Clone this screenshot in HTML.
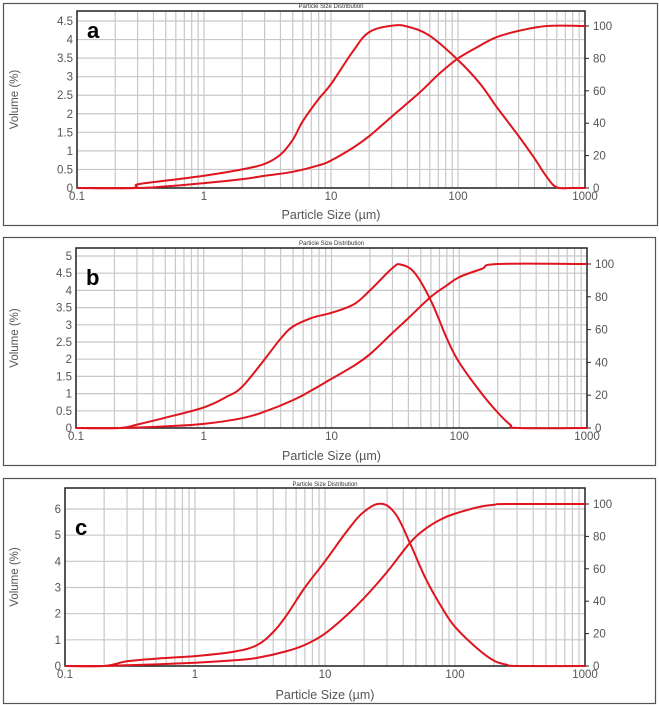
<!DOCTYPE html>
<html><head><meta charset="utf-8">
<style>
body{margin:0;background:#fff;width:659px;height:705px;overflow:hidden;font-family:"Liberation Sans",sans-serif;}
svg{display:block}
</style></head>
<body>
<svg id="chart" width="659" height="705"></svg>
<script>
// Panel a data (x in µm)
const aDensX=[0.1,0.27,0.3,0.5,1,2,3,4,5,6,8,10,15,20,30,40,60,100,150,200,300,400,500,600,800,1000];
const aDensY=[0,0,0.1,0.2,0.33,0.5,0.65,0.9,1.3,1.8,2.4,2.8,3.7,4.2,4.37,4.35,4.1,3.45,2.8,2.2,1.4,0.8,0.3,0.02,0,0];
const aCumX=[0.1,0.3,0.5,1,2,3,5,8,10,15,20,30,50,70,100,150,200,300,500,1000];
const aCumY=[0,0,1,3,5.5,7.5,10,14,17,25,32,44,59,70,80,88,93,97,100,100];
// Panel b
const bDensX=[0.1,0.22,0.3,0.5,1,1.5,2,3,4,5,7,10,15,20,30,35,45,60,80,100,150,200,250,290,1000];
const bDensY=[0,0,0.1,0.3,0.6,0.9,1.2,2,2.6,2.95,3.2,3.35,3.6,4,4.65,4.75,4.5,3.7,2.6,1.9,1,0.45,0.1,0,0];
const bCumX=[0.1,0.22,0.5,1,2,3,5,7,10,15,20,30,40,60,80,100,150,200,1000];
const bCumY=[0,0,1,2.5,6,10,17,23,30,38,45,58,67,80,87,92,97,100,100];
// Panel c
const cDensX=[0.1,0.2,0.3,0.5,1,2,3,4,5,7,10,15,20,27,35,45,60,80,100,150,200,250,300,1000];
const cDensY=[0,0,0.18,0.28,0.38,0.55,0.8,1.3,1.9,3,4,5.2,5.9,6.2,5.8,4.7,3.3,2.2,1.5,0.65,0.2,0.05,0,0];
const cCumX=[0.1,0.2,0.3,0.5,1,2,3,5,7,10,15,20,30,45,60,80,100,150,200,250,1000];
const cCumY=[0,0,0.5,1,2,3.5,5,9,13,20,32,42,58,76,85,91,94,98,99.5,100,100];

const yTicksA=[0,0.5,1,1.5,2,2.5,3,3.5,4,4.5];
const yTicksB=[0,0.5,1,1.5,2,2.5,3,3.5,4,4.5,5];
const yTicksC=[0,1,2,3,4,5,6];
const rTicks=[0,20,40,60,80,100];
const xTicks=[0.1,1,10,100,1000];

const NS="http://www.w3.org/2000/svg";
const svg=document.getElementById('chart');
function el(t,a,p){const e=document.createElementNS(NS,t);for(const k in a)e.setAttribute(k,a[k]);(p||svg).appendChild(e);return e;}
function smooth(pts){
 let d='M'+pts[0][0].toFixed(1)+','+pts[0][1].toFixed(1);
 for(let i=0;i<pts.length-1;i++){
  const p0=pts[Math.max(0,i-1)],p1=pts[i],p2=pts[i+1],p3=pts[Math.min(pts.length-1,i+2)];
  const t=0.18;
  const c1x=p1[0]+(p2[0]-p0[0])*t,c1y=p1[1]+(p2[1]-p0[1])*t;
  const c2x=p2[0]-(p3[0]-p1[0])*t,c2y=p2[1]-(p3[1]-p1[1])*t;
  d+='C'+c1x.toFixed(1)+','+c1y.toFixed(1)+' '+c2x.toFixed(1)+','+c2y.toFixed(1)+' '+p2[0].toFixed(1)+','+p2[1].toFixed(1);
 }
 return d;
}

const panels=[
 {id:'a',box:[3,3,654,222],L:77,R:585,T:11,B:188,yMax:4.5,yMaxPx:21,r100:26,yt:yTicksA,dx:aDensX,dy:aDensY,cx:aCumX,cy:aCumY,titleY:8,xlabY:219,letterY:38},
 {id:'b',box:[3,237,652,228],L:76,R:587,T:248,B:428,yMax:5,yMaxPx:256,r100:264,yt:yTicksB,dx:bDensX,dy:bDensY,cx:bCumX,cy:bCumY,titleY:245,xlabY:460,letterY:285},
 {id:'c',box:[3,478,652,225],L:65,R:585,T:488,B:666,yMax:6,yMaxPx:509,r100:504,yt:yTicksC,dx:cDensX,dy:cDensY,cx:cCumX,cy:cCumY,titleY:486,xlabY:699,letterY:535}
];

panels.forEach(p=>{
 const g=el('g',{});
 
 
 const fb=el('rect',{x:p.box[0]+.5,y:p.box[1]+.5,width:p.box[2],height:p.box[3],fill:'#fff',stroke:'#555','stroke-width':1.2},g);
 
 
 const xs=v=>p.L+(Math.log10(v)+1)/4*(p.R-p.L);
 const ys=v=>p.B-v/p.yMax*(p.B-p.yMaxPx);
 const rs=v=>p.B-v/100*(p.B-p.r100);
 for(let d=-1;d<3;d++)for(let m=1;m<10;m++){
  const x=xs(m*Math.pow(10,d));
  const l=el('line',{x1:x,x2:x,y1:p.T,y2:p.B,stroke:'#c8c8c8','stroke-width':1.2},g);
  
  
 }
 p.yt.forEach(v=>{
  const y=ys(v);
  const l=el('line',{x1:p.L,x2:p.R,y1:y,y2:y,stroke:'#c8c8c8','stroke-width':1.2},g);
  
  
  const t=el('text',{x:p.L-4,y:y+4,'text-anchor':'end','font-size':11.5,fill:'#555'},g);
  t.textContent=v;
  
  
 });
 rTicks.forEach(v=>{
  const y=rs(v);
  const l=el('line',{x1:p.R,x2:p.R+4,y1:y,y2:y,stroke:'#222','stroke-width':1},g);
  
  
  const t=el('text',{x:p.R+8,y:y+4,'font-size':11.5,fill:'#555'},g);
  t.textContent=v;
  
  
 });
 xTicks.forEach(v=>{
  const t=el('text',{x:xs(v),y:p.B+12,'text-anchor':'middle','font-size':11.5,fill:'#555'},g);
  t.textContent=v;
  
  
 });
 const ax=el('rect',{x:p.L,y:p.T,width:p.R-p.L,height:p.B-p.T,fill:'none',stroke:'#222','stroke-width':1.5},g);
 
 
 const dPath=smooth(p.dx.map((x,i)=>[xs(x),ys(p.dy[i])]));
 const cPath=smooth(p.cx.map((x,i)=>[xs(x),rs(p.cy[i])]));
 const c1=el('path',{d:cPath,fill:'none',stroke:'#e0141e','stroke-width':2,'stroke-linejoin':'round'},g);
 
 
 const c2=el('path',{d:dPath,fill:'none',stroke:'#e0141e','stroke-width':2,'stroke-linejoin':'round'},g);
 
 
 const tt=el('text',{x:(p.L+p.R)/2,y:p.titleY,'text-anchor':'middle','font-size':6,fill:'#333'},g);
 tt.textContent='Particle Size Distribution';
 
 
 const xl=el('text',{x:(p.L+p.R)/2,y:p.xlabY,'text-anchor':'middle','font-size':12.5,fill:'#555'},g);
 xl.textContent='Particle Size (µm)';
 
 
 const cy=(p.T+p.B)/2;
 const yl=el('text',{x:18,y:cy,'text-anchor':'middle','font-size':11.5,fill:'#555',transform:'rotate(-90 18 '+cy+')'},g);
 yl.textContent='Volume (%)';
 
 
 const lt=el('text',{x:p.L+10,y:p.letterY,'font-size':22,'font-weight':'bold',fill:'#000'},g);
 lt.textContent=p.id;
 
 
});
</script>
</body></html>
